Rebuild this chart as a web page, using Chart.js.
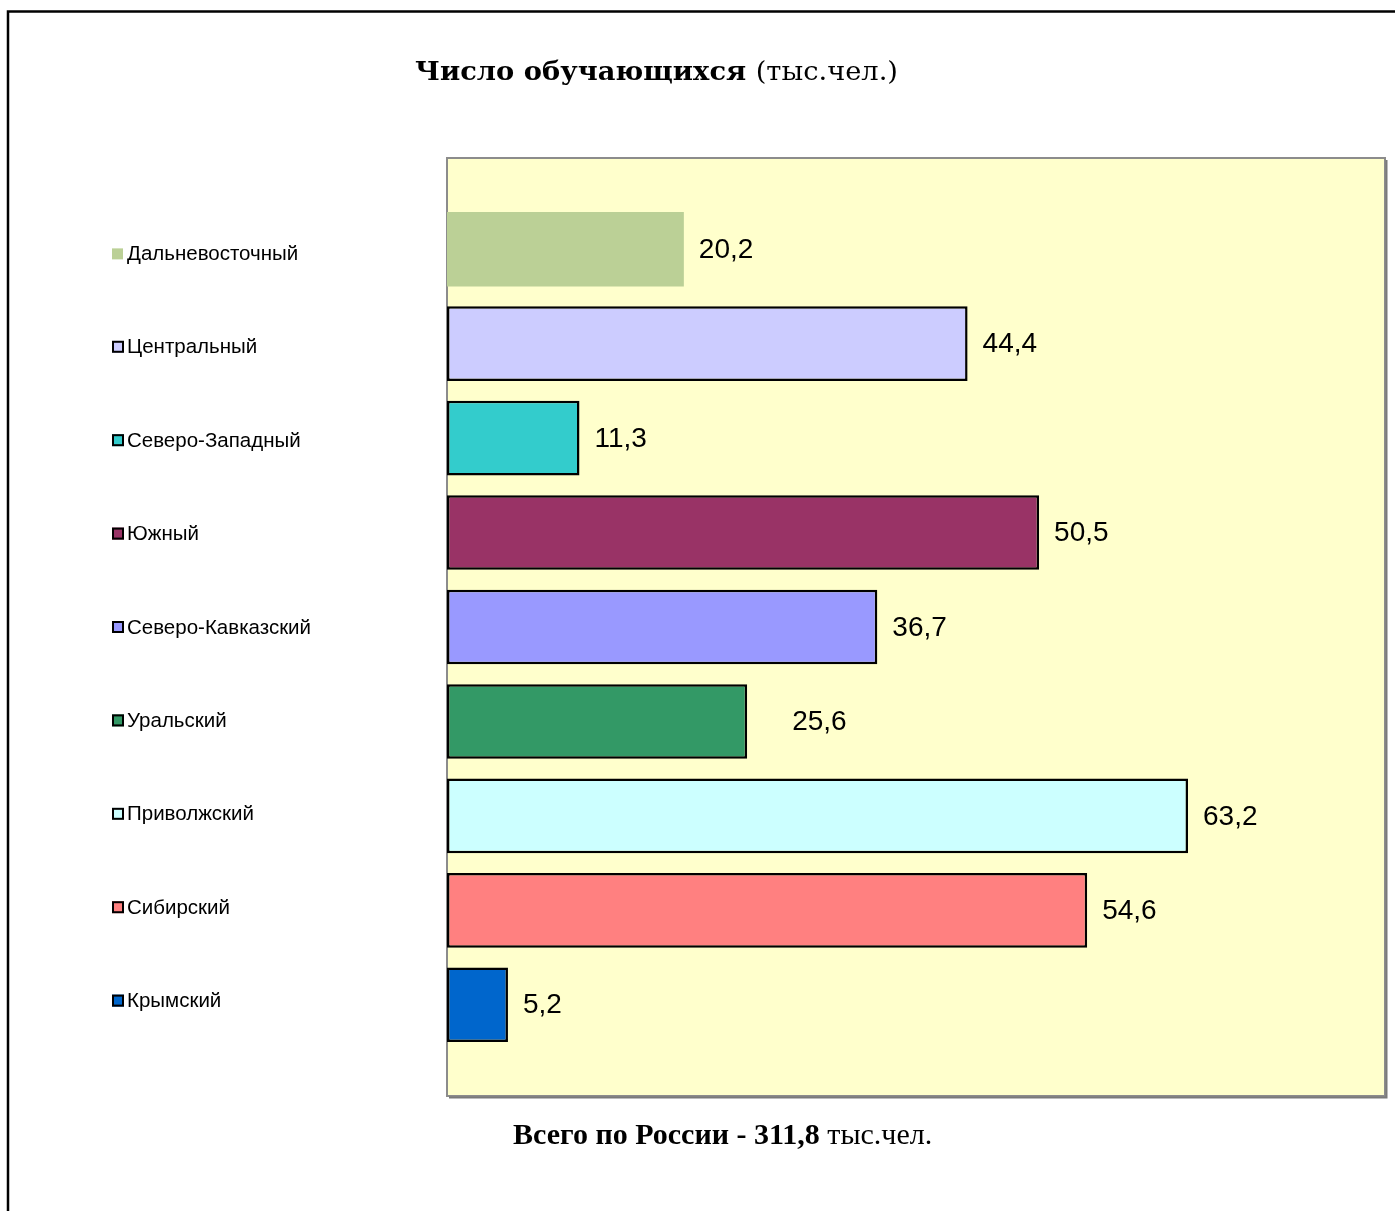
<!DOCTYPE html>
<html>
<head>
<meta charset="utf-8">
<script src="https://cdn.jsdelivr.net/npm/chart.js@4.4.1/dist/chart.umd.min.js"></script>
<style>
  body { margin: 0; background: #fff; }
  canvas { display: block; }
</style>
</head>
<body>
<canvas id="chart" width="1395" height="1211"></canvas>
<script>
// Данные диаграммы
const regions = [
  "Дальневосточный",
  "Центральный",
  "Северо-Западный",
  "Южный",
  "Северо-Кавказский",
  "Уральский",
  "Приволжский",
  "Сибирский",
  "Крымский",
];
const students = [20.2, 44.4, 11.3, 50.5, 36.7, 25.6, 63.2, 54.6, 5.2];
const fillColors = [
  "#BBD096", "#CCCCFF", "#33CCCC", "#993366", "#9999FF",
  "#339966", "#CCFFFF", "#FF8080", "#0066CC",
];
const borderWidths = [0, 2.5, 2.5, 2.5, 2.5, 2.5, 2.5, 2.5, 2.5];
const xMax = 80;
const totalText = "311,8";

// Сдвиг подписи (в Excel у «Уральского» подпись отодвинута)
const labelShift = [0, 0, 0, 0, 0, 30, 0, 0, 0];

// Рамка страницы + фон области построения
const framePlugin = {
  id: "frame",
  beforeDraw(chart) {
    const { ctx, chartArea } = chart;
    ctx.save();
    ctx.fillStyle = "#fff";
    ctx.fillRect(0, 0, chart.width, chart.height);
    // внешняя рамка
    ctx.strokeStyle = "#000";
    ctx.lineWidth = 2.5;
    ctx.beginPath();
    ctx.moveTo(8, chart.height);
    ctx.lineTo(8, 11.5);
    ctx.lineTo(chart.width, 11.5);
    ctx.stroke();
    // область построения (чуть выше и ниже крайних столбцов)
    const pad = 44;
    const left = chartArea.left;
    const top = chartArea.top - pad;
    const w = chartArea.right - left;
    const h = chartArea.bottom + pad - top;
    ctx.fillStyle = "#FFFFCC";
    ctx.fillRect(left, top, w, h);
    ctx.strokeStyle = "#8c8c8c";
    ctx.lineWidth = 2;
    ctx.strokeRect(left, top, w, h);
    ctx.strokeStyle = "#7a7a7a";
    ctx.beginPath();
    ctx.moveTo(left + w + 1.5, top + 2);
    ctx.lineTo(left + w + 1.5, top + h + 1.5);
    ctx.lineTo(left + 2, top + h + 1.5);
    ctx.stroke();
    ctx.restore();
  },
};

// Подписи значений и «легенда» слева
const labelsPlugin = {
  id: "labels",
  afterDatasetsDraw(chart) {
    const { ctx } = chart;
    const bars = chart.getDatasetMeta(0).data;
    const mid = (bars[0].y + bars[bars.length - 1].y) / 2;
    ctx.save();
    ctx.textBaseline = "middle";
    bars.forEach((bar, i) => {
      // значение
      ctx.fillStyle = "#000";
      ctx.font = "28px 'Liberation Sans', Arial, sans-serif";
      ctx.textAlign = "left";
      ctx.fillText(students[i].toFixed(1).replace(".", ","), bar.x + 15 + labelShift[i], bar.y + 1);
      // маркер легенды (легенда чуть плотнее столбцов)
      const y = mid + (bar.y - mid) * 0.989;
      ctx.fillStyle = fillColors[i];
      if (borderWidths[i] > 0) {
        ctx.fillRect(112, y - 6, 12, 12);
        ctx.strokeStyle = "#000";
        ctx.lineWidth = 2;
        ctx.strokeRect(113, y - 5, 10, 10);
      } else {
        ctx.fillRect(112, y - 5, 11, 11);
      }
      ctx.fillStyle = "#000";
      ctx.font = "20.5px 'Liberation Sans', Arial, sans-serif";
      ctx.fillText(regions[i], 127, y + 1);
    });
    ctx.restore();
  },
};

// Заголовок и итог (смешанные начертания)
function drawMixed(ctx, parts, x, y, sx) {
  ctx.save();
  ctx.translate(x, y);
  ctx.scale(sx, 1);
  let cx = 0;
  parts.forEach(([text, font]) => {
    ctx.font = font;
    ctx.fillText(text, cx, 0);
    cx += ctx.measureText(text).width;
  });
  ctx.restore();
}

const textPlugin = {
  id: "texts",
  afterDraw(chart) {
    const { ctx } = chart;
    ctx.save();
    ctx.fillStyle = "#000";
    ctx.textBaseline = "alphabetic";
    ctx.textAlign = "left";
    drawMixed(ctx, [
      ["Число обучающихся ", "bold 26px 'DejaVu Serif', serif"],
      ["(тыс.чел.)", "26px 'DejaVu Serif', serif"],
    ], 415, 80, 1.05);
    drawMixed(ctx, [
      ["Всего по России - " + totalText + " ", "bold 30px 'Liberation Serif', 'Times New Roman', serif"],
      ["тыс.чел.", "30px 'Liberation Serif', 'Times New Roman', serif"],
    ], 513, 1144, 1);
    ctx.restore();
  },
};

new Chart(document.getElementById("chart"), {
  type: "bar",
  data: {
    labels: regions,
    datasets: [
      {
        data: students,
        backgroundColor: fillColors,
        borderColor: "#000",
        borderWidth: borderWidths,
        borderSkipped: false,
        categoryPercentage: 1,
        barPercentage: 0.79,
      },
    ],
  },
  options: {
    indexAxis: "y",
    responsive: false,
    animation: false,
    layout: { padding: { left: 447, right: 10, top: 202, bottom: 159 } },
    plugins: {
      legend: { display: false },
      tooltip: { enabled: false },
    },
    scales: {
      x: { display: false, min: 0, max: xMax },
      y: { display: false, offset: true },
    },
  },
  plugins: [framePlugin, labelsPlugin, textPlugin],
});
</script>
</body>
</html>
